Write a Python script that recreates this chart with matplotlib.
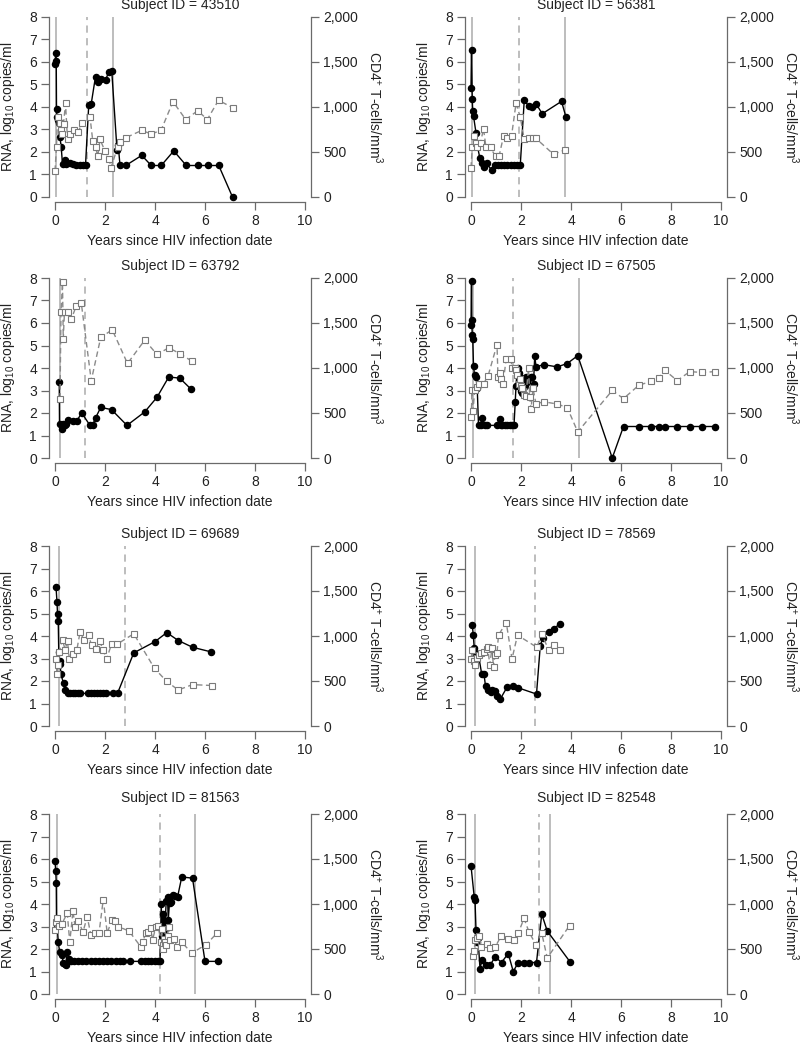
import matplotlib
matplotlib.use("Agg")
import matplotlib.pyplot as plt
from matplotlib.ticker import FuncFormatter

plt.rcParams["font.family"] = ["Liberation Sans", "DejaVu Sans"]
plt.rcParams["mathtext.fontset"] = "custom"
plt.rcParams["mathtext.rm"] = "Liberation Sans"
plt.rcParams["mathtext.it"] = "Liberation Sans"

# ---- data (years since infection; RNA in log10 copies/ml; CD4 in cells/mm3) ----
t_rna_43510 = [0.0, 0.03, 0.05, 0.06, 0.08, 0.12, 0.15, 0.2, 0.25, 0.3, 0.38, 0.45, 0.58, 0.72, 0.85,
               1.0, 1.12, 1.22, 1.35, 1.45, 1.62, 1.72, 1.85, 2.02, 2.15, 2.27, 2.48, 2.53, 2.6, 2.83,
               3.47, 3.85, 4.25, 4.75, 5.25, 5.73, 6.1, 6.55, 7.1]
rna_43510 = [5.9, 6.4, 6.05, 3.9, 3.55, 3.4, 3.3, 2.65, 2.2, 1.45, 1.65, 1.45, 1.5, 1.45, 1.4,
             1.4, 1.4, 1.4, 4.1, 4.15, 5.35, 5.1, 5.25, 5.2, 5.55, 5.6, 2.1, 2.3, 1.4, 1.4,
             1.85, 1.4, 1.4, 2.05, 1.4, 1.4, 1.4, 1.4, 0.0]
t_cd4_43510 = [0.0, 0.06, 0.1, 0.2, 0.24, 0.28, 0.34, 0.42, 0.5, 0.6, 0.77, 0.93, 1.09, 1.4, 1.51,
               1.63, 1.71, 1.8, 2.0, 2.16, 2.24, 2.5, 2.6, 2.84, 3.47, 3.85, 4.24, 4.72, 5.23, 5.71,
               6.09, 6.54, 7.12]
cd4_43510 = [290, 560, 890, 825, 740, 700, 810, 1040, 640, 700, 740, 725, 825, 890, 625,
             550, 450, 640, 510, 425, 325, 550, 610, 660, 740, 700, 740, 1060, 860, 960,
             860, 1075, 990]
solid_43510 = [0.02, 2.31]
dashed_43510 = [1.29]

t_rna_56381 = [0.0, 0.02, 0.05, 0.07, 0.1, 0.2, 0.25, 0.35, 0.42, 0.5, 0.62, 0.82, 0.95, 1.08,
               1.2, 1.32, 1.45, 1.58, 1.72, 1.85, 1.97, 2.13, 2.3, 2.45, 2.6, 2.85, 3.62, 3.8]
rna_56381 = [4.85, 6.55, 4.35, 3.8, 3.6, 2.85, 2.3, 1.75, 1.5, 1.35, 1.5, 1.2, 1.4, 1.4,
             1.4, 1.4, 1.4, 1.4, 1.4, 1.4, 1.4, 4.3, 4.05, 4.0, 4.15, 3.7, 4.25, 3.55]
t_cd4_56381 = [0.0, 0.05, 0.12, 0.18, 0.25, 0.38, 0.5, 0.6, 0.78, 0.98, 1.12, 1.3, 1.45, 1.62,
               1.8, 1.97, 2.13, 2.3, 2.47, 2.6, 3.3, 3.77]
cd4_56381 = [325, 550, 675, 600, 560, 600, 760, 550, 550, 450, 450, 675, 650, 675,
             1040, 890, 640, 650, 650, 650, 475, 525]
solid_56381 = [0.03, 3.77]
dashed_56381 = [1.9]

t_rna_63792 = [0.17, 0.18, 0.28, 0.32, 0.38, 0.45, 0.53, 0.7, 0.87, 1.07, 1.4, 1.5, 1.63, 1.83,
               2.26, 2.88, 3.59, 4.08, 4.55, 4.99, 5.45]
rna_63792 = [3.4, 1.5, 1.3, 1.5, 1.45, 1.5, 1.7, 1.65, 1.65, 2.0, 1.45, 1.45, 1.8, 2.25,
             2.15, 1.45, 2.05, 2.7, 3.6, 3.55, 3.05]
t_cd4_63792 = [0.2, 0.24, 0.3, 0.33, 0.38, 0.5, 0.65, 0.85, 1.05, 1.45, 1.83, 2.29, 2.9, 3.59,
               4.08, 4.55, 4.99, 5.48]
cd4_63792 = [660, 1625, 1950, 1325, 1625, 1625, 1540, 1690, 1725, 860, 1340, 1425, 1050, 1310,
             1150, 1225, 1160, 1075]
solid_63792 = [0.2]
dashed_63792 = [1.2]

t_rna_67505 = [0.0, 0.02, 0.03, 0.05, 0.07, 0.1, 0.14, 0.2, 0.25, 0.3, 0.38, 0.45, 0.55, 0.65,
               1.05, 1.15, 1.2, 1.25, 1.35, 1.45, 1.55, 1.65, 1.72, 1.77, 1.8, 1.85, 1.88, 1.92,
               1.95, 1.98, 2.0, 2.05, 2.1, 2.15, 2.2, 2.25, 2.3, 2.38, 2.45, 2.5, 2.55, 2.6,
               2.9, 3.45, 3.85, 4.27, 5.65, 6.1, 6.72, 7.2, 7.5, 7.75, 8.25, 8.75, 9.25, 9.75]
rna_67505 = [5.9, 7.85, 6.15, 5.45, 5.3, 4.1, 3.7, 3.6, 3.1, 1.45, 1.45, 1.8, 1.45, 1.45,
             1.45, 1.75, 1.45, 1.45, 1.45, 1.45, 1.45, 1.45, 1.45, 2.5, 3.2, 3.95, 4.0, 3.8,
             3.6, 3.3, 3.0, 2.9, 3.5, 3.2, 3.6, 3.4, 3.55, 3.6, 3.6, 3.3, 4.55, 4.05,
             4.15, 4.05, 4.2, 4.55, 0.0, 1.4, 1.4, 1.4, 1.4, 1.4, 1.4, 1.4, 1.4, 1.4]
t_cd4_67505 = [0.01, 0.04, 0.08, 0.15, 0.24, 0.33, 0.5, 0.68, 1.04, 1.08, 1.15, 1.21, 1.28, 1.41,
               1.6, 1.64, 1.75, 1.8, 1.85, 1.9, 1.95, 2.0, 2.05, 2.1, 2.2, 2.3, 2.35, 2.4,
               2.48, 2.6, 2.9, 3.45, 3.85, 4.27, 5.65, 6.1, 6.72, 7.2, 7.5, 7.75, 8.25, 8.75,
               9.25, 9.75]
cd4_67505 = [450, 750, 525, 760, 790, 825, 825, 910, 1260, 900, 940, 875, 825, 1105,
             1095, 1000, 1000, 975, 925, 825, 875, 800, 775, 700, 690, 1000, 675, 540,
             775, 600, 625, 600, 560, 290, 750, 660, 810, 850, 890, 975, 860, 960,
             950, 960]
solid_67505 = [0.09, 4.31]
dashed_67505 = [1.69]

t_rna_69689 = [0.04, 0.08, 0.1, 0.13, 0.15, 0.18, 0.2, 0.24, 0.34, 0.41, 0.5, 0.6, 0.7, 0.8,
               0.9, 1.0, 1.3, 1.42, 1.55, 1.67, 1.8, 1.92, 2.05, 2.3, 2.5, 3.15, 4.0, 4.47,
               4.93, 5.5, 6.22]
rna_69689 = [6.2, 5.5, 5.0, 4.65, 3.3, 2.9, 2.75, 2.3, 1.9, 1.6, 1.45, 1.45, 1.45, 1.45,
             1.45, 1.45, 1.45, 1.45, 1.45, 1.45, 1.45, 1.45, 1.45, 1.45, 1.45, 3.25, 3.75, 4.15,
             3.8, 3.5, 3.3]
t_cd4_69689 = [0.04, 0.08, 0.1, 0.17, 0.3, 0.4, 0.5, 0.57, 0.7, 0.87, 1.0, 1.16, 1.34, 1.46,
               1.63, 1.79, 1.92, 2.06, 2.26, 2.49, 3.15, 3.98, 4.47, 4.93, 5.5, 6.26]
cd4_69689 = [740, 575, 675, 825, 960, 850, 940, 750, 800, 840, 1040, 960, 1010, 900,
             860, 940, 850, 740, 910, 910, 1025, 640, 495, 400, 460, 450]
solid_69689 = [0.15]
dashed_69689 = [2.78]

t_rna_78569 = [0.05, 0.09, 0.13, 0.17, 0.21, 0.3, 0.43, 0.52, 0.58, 0.69, 0.78, 0.85, 0.96, 1.04,
               1.16, 1.44, 1.66, 1.88, 2.62, 2.77, 2.87, 3.1, 3.33, 3.54]
rna_78569 = [4.5, 4.05, 3.45, 3.25, 3.0, 3.15, 2.3, 2.3, 1.78, 1.6, 1.5, 1.6, 1.55, 1.33,
             1.18, 1.72, 1.8, 1.7, 1.42, 3.55, 3.93, 4.2, 4.32, 4.55]
t_cd4_78569 = [0.0, 0.05, 0.1, 0.16, 0.22, 0.3, 0.4, 0.5, 0.62, 0.67, 0.75, 0.84, 0.9, 0.96,
               1.04, 1.1, 1.41, 1.64, 1.86, 2.63, 2.83, 3.1, 3.3, 3.54]
cd4_78569 = [740, 840, 725, 675, 760, 790, 810, 825, 860, 875, 680, 865, 655, 790,
             810, 1010, 1150, 745, 1010, 875, 1020, 850, 900, 840]
solid_78569 = [0.16]
dashed_78569 = [2.55]

t_rna_81563 = [0.0, 0.03, 0.05, 0.06, 0.09, 0.13, 0.19, 0.27, 0.33, 0.38, 0.43, 0.49, 0.56, 0.63,
               0.76, 0.92, 1.09, 1.25, 1.43, 1.6, 1.76, 1.92, 2.09, 2.25, 2.43, 2.59, 2.72, 2.99,
               3.43, 3.59, 3.72, 3.85, 3.99, 4.13, 4.2, 4.25, 4.28, 4.31, 4.35, 4.38, 4.41, 4.45,
               4.5, 4.53, 4.58, 4.63, 4.7, 4.8, 4.9, 5.07, 5.5, 6.0, 6.5]
rna_81563 = [5.9, 5.45, 4.95, 3.25, 3.05, 2.3, 1.85, 1.75, 1.4, 1.35, 1.3, 1.85, 1.55, 1.45,
             1.45, 1.45, 1.45, 1.45, 1.45, 1.45, 1.45, 1.45, 1.45, 1.45, 1.45, 1.45, 1.45, 1.45,
             1.45, 1.45, 1.45, 1.45, 1.45, 1.45, 1.45, 4.0, 2.6, 3.55, 3.1, 2.9, 3.25, 4.15,
             4.3, 3.3, 4.05, 4.1, 4.4, 4.35, 4.3, 5.2, 5.15, 1.45, 1.45]
t_cd4_81563 = [0.0, 0.03, 0.09, 0.15, 0.27, 0.49, 0.59, 0.72, 0.8, 0.93, 1.12, 1.29, 1.43, 1.59,
               1.76, 1.93, 2.09, 2.27, 2.39, 2.52, 2.96, 3.43, 3.5, 3.63, 3.72, 3.83, 3.9, 4.03,
               4.13, 4.23, 4.27, 4.3, 4.32, 4.36, 4.4, 4.45, 4.5, 4.55, 4.6, 4.76, 4.89, 5.07,
               5.47, 6.05, 6.49]
cd4_81563 = [710, 800, 850, 760, 775, 900, 575, 925, 750, 810, 690, 860, 660, 675,
             675, 1050, 675, 825, 810, 750, 700, 525, 575, 675, 690, 730, 600, 740,
             760, 575, 725, 550, 500, 610, 575, 540, 650, 750, 600, 610, 520, 575,
             455, 550, 680]
solid_81563 = [0.07, 5.59]
dashed_81563 = [4.19]

t_rna_82548 = [0.0, 0.13, 0.16, 0.2, 0.24, 0.28, 0.36, 0.44, 0.6, 0.77, 0.97, 1.22, 1.49, 1.69,
               1.89, 2.1, 2.32, 2.62, 2.83, 3.05, 3.96]
rna_82548 = [5.7, 4.3, 4.2, 2.85, 2.3, 2.5, 1.12, 1.5, 1.3, 1.3, 1.65, 1.4, 1.8, 1.0,
             1.4, 1.4, 1.4, 1.4, 3.55, 2.8, 1.43]
t_cd4_82548 = [0.09, 0.12, 0.17, 0.24, 0.33, 0.4, 0.62, 0.76, 0.97, 1.2, 1.49, 1.7, 1.89, 2.12,
               2.32, 2.59, 2.83, 3.05, 3.94]
cd4_82548 = [425, 475, 600, 625, 650, 525, 560, 510, 525, 640, 610, 600, 675, 840,
             690, 550, 675, 400, 760]
solid_82548 = [0.17, 3.15]
dashed_82548 = [2.72]

subjects = [
    ("43510", t_rna_43510, rna_43510, t_cd4_43510, cd4_43510, solid_43510, dashed_43510),
    ("56381", t_rna_56381, rna_56381, t_cd4_56381, cd4_56381, solid_56381, dashed_56381),
    ("63792", t_rna_63792, rna_63792, t_cd4_63792, cd4_63792, solid_63792, dashed_63792),
    ("67505", t_rna_67505, rna_67505, t_cd4_67505, cd4_67505, solid_67505, dashed_67505),
    ("69689", t_rna_69689, rna_69689, t_cd4_69689, cd4_69689, solid_69689, dashed_69689),
    ("78569", t_rna_78569, rna_78569, t_cd4_78569, cd4_78569, solid_78569, dashed_78569),
    ("81563", t_rna_81563, rna_81563, t_cd4_81563, cd4_81563, solid_81563, dashed_81563),
    ("82548", t_rna_82548, rna_82548, t_cd4_82548, cd4_82548, solid_82548, dashed_82548),
]

# ---- layout (pixel anchors of data origin for each column / row) ----
W, H = 800, 1045
col_x0 = [55, 471]
row_y0 = [197, 458, 726, 994]
title_pad = [1, 1, 1, 5]
px_x, px_y = 25.0, 22.5
xlo, xhi = -0.25, 10.25
ylo, yhi = -0.22, 8.22

spine_c = "#6a6a6a"
text_c = "#222222"
vline_c = "#b8b8b8"
fs = 10

fig = plt.figure(figsize=(W / 100, H / 100), dpi=100)

for i, (sid, tr, rna, tc, cd4, solid, dashed) in enumerate(subjects):
    col, row = i % 2, i // 2
    left = col_x0[col] + xlo * px_x
    bottom = row_y0[row] - ylo * px_y
    ax = fig.add_axes([left / W, 1 - bottom / H, (xhi - xlo) * px_x / W, (yhi - ylo) * px_y / H])
    ax.set_xlim(xlo, xhi)
    ax.set_ylim(ylo, yhi)

    ax.vlines(solid, 0, 8, color=vline_c, lw=1.3, zorder=1)
    ax.vlines(dashed, 0, 8, color=vline_c, lw=1.3, linestyles=(0, (4, 3)), zorder=1)

    ax.plot(tr, rna, "-o", color="black", lw=1.0, ms=4.4, zorder=3)

    ax2 = ax.twinx()
    ax2.set_ylim(ylo * 250, yhi * 250)
    ax2.plot(tc, cd4, linestyle=(0, (4, 2.5)), color="#8a8a8a", lw=1.0, marker="s", ms=4.5,
             mfc="white", mec="#7a7a7a", mew=0.8, zorder=2)

    for a in (ax, ax2):
        for s in a.spines.values():
            s.set_visible(False)
        a.tick_params(direction="out", length=5.5, width=0.9, color=spine_c,
                      labelsize=fs, labelcolor=text_c, pad=3)
    ax.spines["left"].set_visible(True)
    ax.spines["bottom"].set_visible(True)
    ax.spines["left"].set_bounds(0, 8)
    ax.spines["bottom"].set_bounds(0, 10)
    ax2.spines["right"].set_visible(True)
    ax2.spines["right"].set_bounds(0, 2000)
    for s in (ax.spines["left"], ax.spines["bottom"], ax2.spines["right"]):
        s.set_color(spine_c)
        s.set_linewidth(0.9)

    ax.set_xticks([0, 2, 4, 6, 8, 10])
    ax.set_yticks(range(0, 9))
    ax2.set_yticks([0, 500, 1000, 1500, 2000])
    ax2.yaxis.set_major_formatter(FuncFormatter(lambda v, p: f"{int(v):,}"))

    ax.set_title(f"Subject ID = {sid}", fontsize=fs, color=text_c, pad=title_pad[row])
    ax.set_xlabel("Years since HIV infection date", fontsize=fs, color=text_c, labelpad=4.5)
    ax.set_ylabel(r"RNA, log$_{10}$ copies/ml", fontsize=fs, color=text_c, labelpad=9)
    ax2.set_ylabel(r"CD4$^{+}$ T-cells/mm$^{3}$", fontsize=fs, color=text_c,
                   rotation=270, labelpad=19)

fig.savefig("out.png", dpi=100)
